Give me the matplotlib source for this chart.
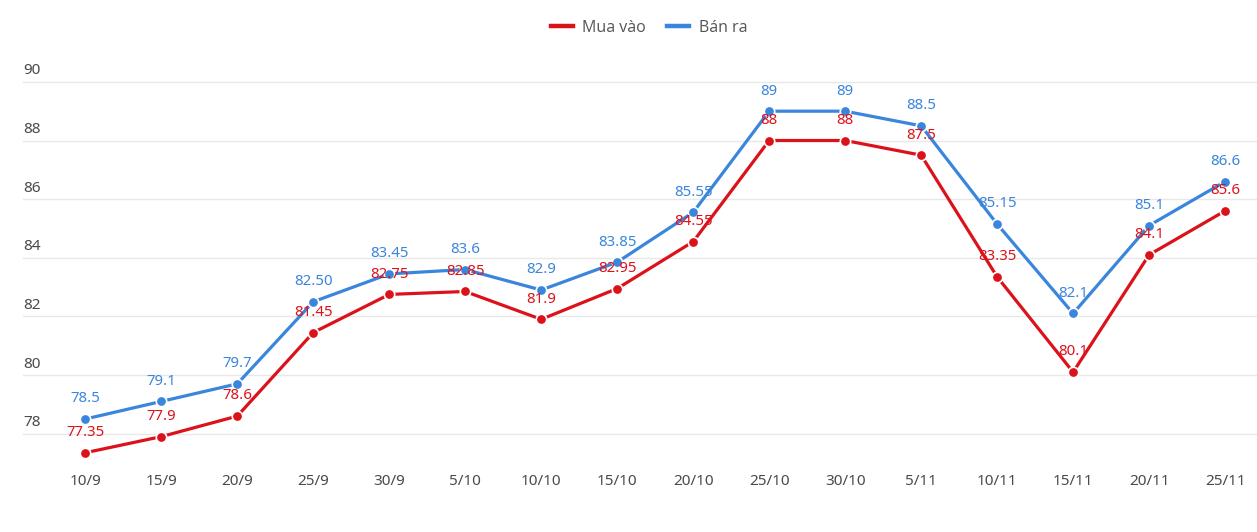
import matplotlib
matplotlib.use("Agg")
import matplotlib.pyplot as plt
from matplotlib.lines import Line2D

categories = ["10/9", "15/9", "20/9", "25/9", "30/9", "5/10", "10/10", "15/10",
              "20/10", "25/10", "30/10", "5/11", "10/11", "15/11", "20/11", "25/11"]
mua_vao = [77.35, 77.9, 78.6, 81.45, 82.75, 82.85, 81.9, 82.95, 84.55, 88, 88, 87.5,
           83.35, 80.1, 84.1, 85.6]
mua_vao_labels = ["77.35", "77.9", "78.6", "81.45", "82.75", "82.85", "81.9", "82.95",
                  "84.55", "88", "88", "87.5", "83.35", "80.1", "84.1", "85.6"]
ban_ra = [78.5, 79.1, 79.7, 82.50, 83.45, 83.6, 82.9, 83.85, 85.55, 89, 89, 88.5,
          85.15, 82.1, 85.1, 86.6]
ban_ra_labels = ["78.5", "79.1", "79.7", "82.50", "83.45", "83.6", "82.9", "83.85",
                 "85.55", "89", "89", "88.5", "85.15", "82.1", "85.1", "86.6"]
y_ticks = [78, 80, 82, 84, 86, 88, 90]

RED = "#dc121b"
BLUE = "#3a86dc"

plt.rcParams['font.family'] = ['Noto Sans', 'DejaVu Sans']

fig = plt.figure(figsize=(12.57, 5.32), dpi=100)
ax = fig.add_axes([23 / 1257, 1 - 463 / 532, 1 - 23 / 1257, (463 - 76) / 532])

x = list(range(len(categories)))
for vals, labels, color, zo in [(mua_vao, mua_vao_labels, RED, 3), (ban_ra, ban_ra_labels, BLUE, 4)]:
    ax.plot(x, vals, color=color, lw=2.3, marker='o', markersize=7.5,
            markerfacecolor=color, markeredgecolor='white', markeredgewidth=1.2,
            zorder=zo, solid_joinstyle='round')
    for xi, v, lab in zip(x, vals, labels):
        ax.annotate(lab, (xi, v), xytext=(0, 14.5), textcoords='offset points',
                    ha='center', va='center', fontsize=10.8, color=color, zorder=5)

ax.set_xlim(-0.82, 15.42)
ax.set_ylim(77, 90.2)
ax.set_yticks(y_ticks)
ax.set_yticklabels([])
for t in y_ticks:
    ax.axhline(t, color='#e8e8e8', lw=1, zorder=1)
    ax.annotate(str(t), (0, t), xycoords=('axes fraction', 'data'),
                xytext=(0, 2.5), textcoords='offset points', ha='left', va='bottom',
                fontsize=11, color='#4a4a4a')
ax.tick_params(axis='y', length=0)
ax.set_xticks(x)
ax.set_xticklabels(categories, fontsize=11, color='#4a4a4a')
ax.tick_params(axis='x', length=0, pad=8)
for s in ax.spines.values():
    s.set_visible(False)

handles = [Line2D([0], [0], color=RED, lw=3.2), Line2D([0], [0], color=BLUE, lw=3.2)]
fig.legend(handles, ["Mua vào", "Bán ra"], loc='center', bbox_to_anchor=(649 / 1257, 1 - 28 / 532),
           ncol=2, frameon=False, handlelength=1.4, handletextpad=0.6,
           columnspacing=1.3, labelcolor='#555555', prop={'family': 'Open Sans', 'size': 11.5})

fig.savefig("out.png", dpi=100)
